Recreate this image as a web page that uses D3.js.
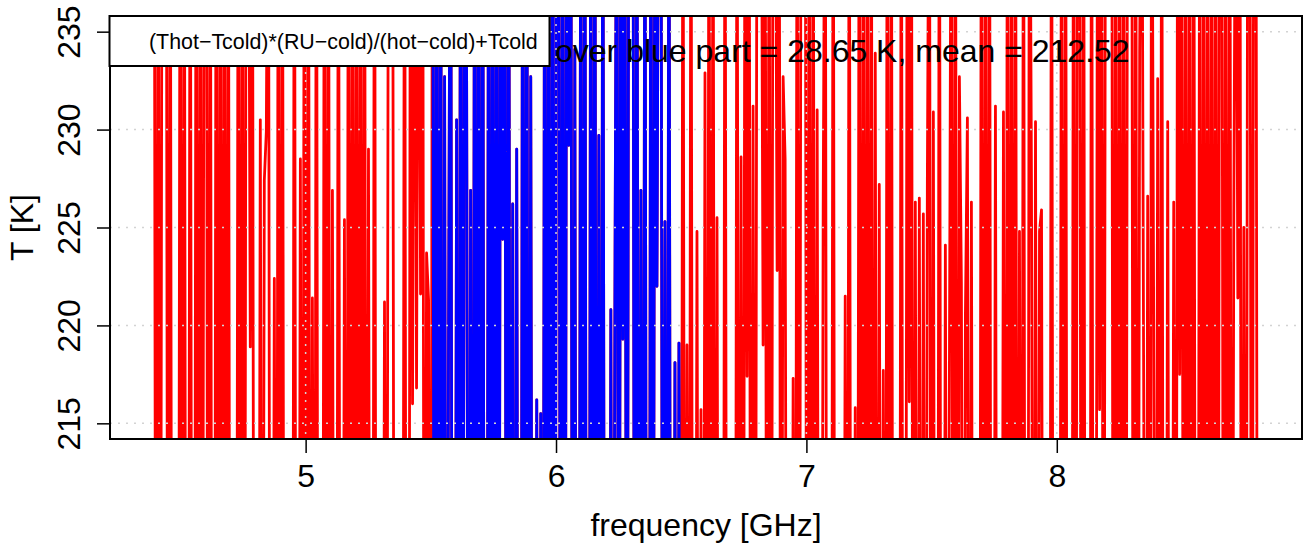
<!DOCTYPE html>
<html><head><meta charset="utf-8">
<script src="https://cdn.jsdelivr.net/npm/d3@7"></script>
<style>
body{margin:0;background:#fff}
svg{display:block}
text{font-family:"Liberation Sans",Arial,Helvetica,sans-serif;fill:#000}
</style>
</head><body>
<svg id="chart" width="1307" height="546"></svg>
<script>
// ---------- data ----------
const freqStart = 4.395;   // GHz, first channel
const freqStep = 0.008;    // GHz, channel spacing

// T [K], channels 0..138 (red, below 5.5 GHz)
const tempRedLow = [
250,180,250,180,250,250,250,180,250,180,
180,180,180,250,180,250,180,180,250,180,
180,250,180,250,180,250,250,180,250,180,
180,250,180,250,180,250,180,250,180,180,
180,180,250,180,250,180,250,250,218.9,250,
180,180,180,230.5,180,227.4,229.9,250,180,180,
222.4,180,250,180,250,180,180,180,180,180,
250,180,180,228.5,180,250,180,250,180,221.4,
180,250,180,180,180,250,180,250,180,226.9,
180,180,250,180,180,225.4,180,250,180,250,
180,250,180,250,180,250,180,229,180,180,
250,180,180,180,180,221.2,180,250,250,250,
180,180,180,180,180,250,180,180,250,216,
250,216.8,250,221.6,250,180,223.7,221.3,180
];
// T [K], channels 139..263 (blue part, 5.5 - 6.5 GHz)
const tempBlue = [
250,180,250,180,250,180,232.7,180,220.5,250,
180,180,230.5,180,250,180,250,232.7,180,226.9,
180,250,180,250,180,250,180,180,250,180,
250,180,250,180,250,224.4,250,180,250,180,
226.2,180,229,180,180,250,180,250,180,232.7,
180,180,216.2,180,215.5,180,250,180,250,180,
250,180,250,250,180,250,180,250,229.2,250,
180,234.1,180,180,250,180,250,180,180,250,
180,250,180,229.7,180,250,180,180,180,220.8,
180,220.4,250,180,250,219.3,250,180,250,250,
250,180,250,180,226.9,180,250,180,180,250,
180,250,222,250,250,180,225.3,180,250,180,
180,218.1,180,219.1,180
];
// T [K], channels 264..551 (red, above 6.5 GHz)
const tempRedHigh = [
250,180,219,180,250,180,180,224.8,180,215.7,
180,232.9,180,250,180,250,180,225.5,180,180,
180,250,180,180,180,180,180,250,180,228.6,
180,250,217.4,250,180,231.2,180,250,250,250,
219,250,180,250,180,250,250,222.8,250,180,
232.7,228.5,180,180,180,217.3,180,250,180,250,
250,250,180,250,180,250,180,231,180,180,
225.9,250,180,180,180,250,180,180,180,180,
180,221.5,180,250,180,180,215.8,180,250,180,
250,180,250,180,250,180,233.9,180,227.2,180,
217.7,180,250,180,250,180,180,180,180,250,
180,180,250,216.1,250,180,226.3,180,226.5,180,
225.7,180,227.3,250,180,230.9,180,180,250,180,
180,224.1,180,217.3,250,180,250,180,232.7,222.2,
180,220.5,230.6,180,226.3,180,180,180,180,250,
180,250,180,250,180,180,231.2,180,180,180,
230.9,180,250,180,250,180,250,180,224.8,180,
250,180,180,250,227,180,230.4,180,224.8,225.9,
180,180,180,180,250,180,180,180,180,250,
180,250,180,180,180,250,180,250,250,180,
250,180,180,180,250,180,180,250,215.7,250,
180,250,250,250,250,180,250,180,250,180,
250,180,250,250,250,180,250,180,233.9,250,
216.9,180,226.6,180,250,220.3,180,232.6,180,250,
180,180,230.4,180,180,226.3,180,250,217.5,250,
180,250,180,250,180,250,180,180,250,180,
250,180,250,180,250,180,250,180,250,250,
180,250,180,250,180,225.6,250,221.4,250,180,
225,180,250,250,180,250,250,180
];

const blueRange = [5.5, 6.5];
const yLimits = [215, 235];
const xTicks = [5, 6, 7, 8];
const yTicks = [215, 220, 225, 230, 235];
const xTitle = "frequency [GHz]";
const yTitle = "T [K]";
const legendLabel = "(Thot\u2212Tcold)*(RU\u2212cold)/(hot\u2212cold)+Tcold";
const noteText = "over blue part = 28.65 K, mean = 212.52";

// ---------- build ----------
const temps = tempRedLow.concat(tempBlue, tempRedHigh);
const data = temps.map((t, i) => ({f: freqStart + i * freqStep, t}));

const W = 1307, H = 546;
const plot = {left: 110, right: 1302, top: 16, bottom: 439};

const fExt = d3.extent(data, d => d.f);
const fPad = 0.04 * (fExt[1] - fExt[0]);
const tPad = 0.04 * (yLimits[1] - yLimits[0]);

const x = d3.scaleLinear().domain([fExt[0] - fPad, fExt[1] + fPad]).range([plot.left, plot.right]);
const y = d3.scaleLinear().domain([yLimits[0] - tPad, yLimits[1] + tPad]).range([plot.bottom, plot.top]);

const svg = d3.select("#chart");
svg.append("rect").attr("width", W).attr("height", H).attr("fill", "#fff");

svg.append("defs").append("clipPath").attr("id", "clip")
  .append("rect").attr("x", plot.left).attr("y", plot.top)
  .attr("width", plot.right - plot.left).attr("height", plot.bottom - plot.top);

const line = d3.line().x(d => x(d.f)).y(d => y(d.t));
const g = svg.append("g").attr("clip-path", "url(#clip)");

g.append("path").datum(data)
  .attr("d", line).attr("fill", "none").attr("stroke", "#ff0000")
  .attr("stroke-width", 2.8).attr("stroke-linejoin", "round").attr("stroke-linecap", "round");

const blueData = data.filter(d => d.f >= blueRange[0] - 1e-9 && d.f <= blueRange[1] + 1e-9);
g.append("path").datum(blueData)
  .attr("d", line).attr("fill", "none").attr("stroke", "#0000ff")
  .attr("stroke-width", 2.8).attr("stroke-linejoin", "round").attr("stroke-linecap", "round");

// grid (dotted light gray, drawn over the data)
const grid = svg.append("g").attr("stroke", "#d3d3d3").attr("stroke-width", 1.5).attr("stroke-dasharray", "2,6");
grid.selectAll(".gy").data(yTicks).enter().append("line")
  .attr("x1", plot.left).attr("x2", plot.right).attr("y1", d => y(d)).attr("y2", d => y(d));
grid.selectAll(".gx").data(xTicks).enter().append("line")
  .attr("y1", plot.top).attr("y2", plot.bottom).attr("x1", d => x(d)).attr("x2", d => x(d));

// frame
svg.append("rect").attr("x", plot.left).attr("y", plot.top)
  .attr("width", plot.right - plot.left).attr("height", plot.bottom - plot.top)
  .attr("fill", "none").attr("stroke", "#000").attr("stroke-width", 2);

// axes
const xAxis = d3.axisBottom(x).tickValues(xTicks).tickSize(14).tickPadding(12).tickFormat(d3.format("d"));
const gx = svg.append("g").attr("transform", `translate(0,${plot.bottom})`).call(xAxis);
gx.select(".domain").remove();
gx.selectAll(".tick line").attr("stroke", "#000").attr("stroke-width", 1.5);
gx.selectAll(".tick text").attr("font-size", 32).attr("font-family", "Liberation Sans, Arial, sans-serif")
  .attr("y", 48).attr("dy", 0);

const yAxis = d3.axisLeft(y).tickValues(yTicks).tickSize(13).tickFormat(d3.format("d"));
const gy = svg.append("g").attr("transform", `translate(${plot.left},0)`).call(yAxis);
gy.select(".domain").remove();
gy.selectAll(".tick line").attr("stroke", "#000").attr("stroke-width", 1.5);
gy.selectAll(".tick text")
  .attr("font-size", 32).attr("font-family", "Liberation Sans, Arial, sans-serif")
  .attr("x", 0).attr("dy", 0).attr("text-anchor", "middle")
  .attr("transform", "translate(-30,0) rotate(-90)");

// axis titles
svg.append("text").attr("x", (plot.left + plot.right) / 2).attr("y", 536)
  .attr("text-anchor", "middle").attr("font-size", 32).text(xTitle);
svg.append("text").attr("transform", `translate(33,${(plot.top + plot.bottom) / 2}) rotate(-90)`)
  .attr("text-anchor", "middle").attr("font-size", 32).text(yTitle);

// note text
svg.append("text").attr("x", 555).attr("y", 62).attr("font-size", 32).text(noteText);

// legend
svg.append("rect").attr("x", plot.left - 0.5).attr("y", plot.top).attr("width", 440).attr("height", 50)
  .attr("fill", "#fff").attr("stroke", "#000").attr("stroke-width", 2);
svg.append("text").attr("x", plot.left + 39).attr("y", 49).attr("font-size", 21.4).text(legendLabel);
</script>
</body></html>
